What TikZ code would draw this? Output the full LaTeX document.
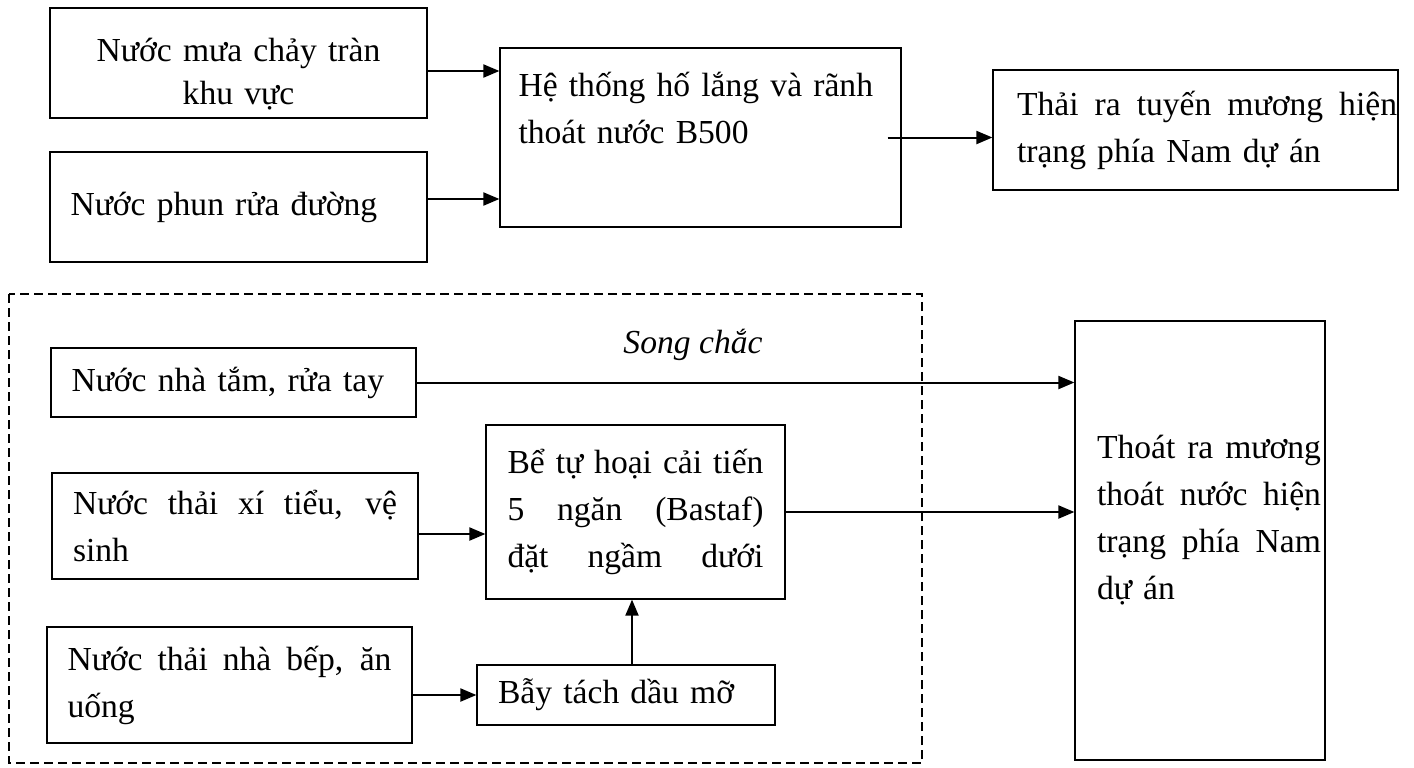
\documentclass[tikz,border=0pt]{standalone}
\usepackage{fontspec}
\setmainfont{Liberation Serif}
\usetikzlibrary{arrows.meta}
\newcommand{\jline}[2]{\leavevmode\hbox to #1{\spaceskip=\fontdimen2\font plus 1fil\relax #2}}

\begin{document}
\begin{tikzpicture}[x=0.5pt,y=-0.5pt,>={Triangle[length=8pt,width=6.5pt]},
    box/.style={draw,line width=0.6pt,inner sep=0pt,align=left,
        font=\fontsize{16.8}{23.5}\selectfont},
    flow/.style={->,line width=1pt}]
\useasboundingbox (0,0) rectangle (1414,767);

%Draw the rain water line at the top
    \node[box,minimum width=188.5pt,minimum height=55pt,text width=170pt,align=center,font=\fontsize{16.8}{21.5}\selectfont] (rain) at (238.5,63) {\rule{0pt}{23pt}Nước mưa chảy tràn\\khu vực};
    \node[box,minimum width=188.5pt,minimum height=55pt,text width=168pt] (wash) at (238.5,207) {Nước phun rửa đường};
    \node[box,minimum width=200.5pt,minimum height=89.5pt,text width=182pt] (settle) at (700.5,137.5) {Hệ thống hố lắng và rãnh\\thoát nước B500\\[6pt]\mbox{}};
    \node[box,minimum width=202.5pt,minimum height=60pt,text width=178.5pt] (outlet) at (1195.5,130) {\jline{190pt}{Thải ra tuyến mương hiện}\\trạng phía Nam dự án};

    \draw[flow] ([yshift=-4pt]rain.east) -- ([yshift=-4pt]rain.east -| settle.west);
    \draw[flow] ([yshift=4pt]wash.east) -- ([yshift=4pt]wash.east -| settle.west);
    \draw[flow] ([xshift=-7pt]settle.east) -- (settle.east -| outlet.west);

%Draw the dashed frame round the waste water part
    \draw[dash pattern=on 4.5pt off 2.5pt,line width=0.6pt] (9,294) rectangle (922,763);
    \node[font=\fontsize{16.8}{23.5}\selectfont\itshape] (grille) at (693,345) {Song chắc};

    \node[box,minimum width=182.5pt,minimum height=34.5pt,text width=162pt] (bath) at (233.5,382.5) {Nước nhà tắm, rửa tay};
    \node[box,minimum width=183pt,minimum height=53pt,text width=162pt] (toilet) at (235,526) {\jline{162pt}{Nước thải xí tiểu, vệ}\\sinh};
    \node[box,minimum width=182.5pt,minimum height=58pt,text width=162pt] (kitchen) at (229.5,685) {\jline{162pt}{Nước thải nhà bếp, ăn}\\uống};
    \node[box,minimum width=149.5pt,minimum height=87pt,text width=128pt] (tank) at (635.5,512) {\jline{128pt}{Bể tự hoại cải tiến}\\\jline{128pt}{5 ngăn (Bastaf)}\\\jline{128pt}{đặt ngầm dưới}};
    \node[box,minimum width=149pt,minimum height=30pt,text width=128pt] (trap) at (626,695) {Bẫy tách dầu mỡ};
    \node[box,minimum width=125pt,minimum height=219.5pt,text width=103pt] (drain) at (1200,540.5) {\jline{112pt}{Thoát ra mương}\\\jline{112pt}{thoát nước hiện}\\\jline{112pt}{trạng phía Nam}\\dự án\\\mbox{}};

%Draw the flows into the septic tank and out to the drain
    \draw[flow] ([yshift=-4pt]toilet.east) -- ([yshift=-4pt]toilet.east -| tank.west);
    \draw[flow] (kitchen.east |- trap.west) -- (trap.west);
    \draw[flow] ([xshift=3pt]trap.north) -- ([xshift=3pt]trap.north |- tank.south);
    \foreach \src in {bath,tank}
        {
        \draw[flow] (\src.east) -- (\src.east -| drain.west);
    }
\end{tikzpicture}
\end{document}
